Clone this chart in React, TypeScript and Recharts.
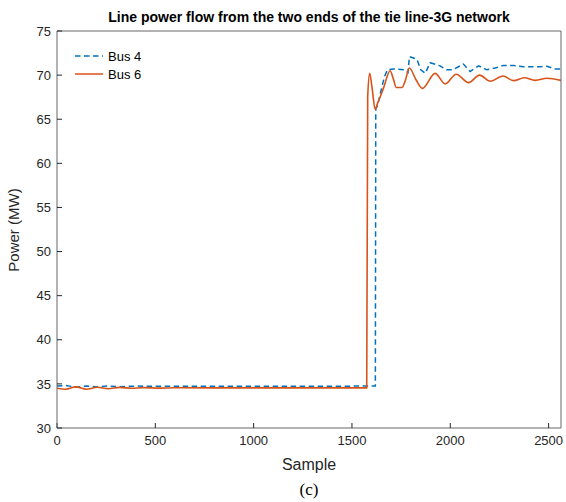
import React from 'react'
import { Legend, Line, LineChart, XAxis, YAxis } from 'recharts'

// samples and power (MW)
const bus4Samples = [0, 45, 100, 150, 205, 260, 320, 400, 500, 700, 1000, 1300, 1619, 1621, 1630, 1645, 1665, 1680, 1711, 1770, 1785, 1792, 1830, 1850, 1873, 1897, 1948, 1980, 2012, 2067, 2101, 2144, 2186, 2229, 2269, 2320, 2373, 2458, 2492, 2530, 2563]
const bus4Power = [34.75, 34.82, 34.62, 34.76, 34.66, 34.76, 34.68, 34.75, 34.72, 34.74, 34.74, 34.74, 34.75, 66.2, 66.5, 68.0, 69.8, 70.6, 70.7, 70.6, 70.3, 72.1, 71.8, 70.6, 70.2, 71.4, 71.05, 70.6, 70.6, 71.25, 70.4, 71.05, 70.6, 70.8, 71.1, 71.1, 70.95, 70.95, 71.0, 70.7, 70.7]

const bus6Samples = [0, 45, 95, 150, 205, 260, 320, 380, 440, 520, 600, 800, 1100, 1400, 1575, 1580, 1590, 1602, 1618, 1630, 1643, 1660, 1694, 1710, 1725, 1755, 1770, 1792, 1825, 1858, 1923, 1974, 2030, 2093, 2149, 2203, 2268, 2322, 2376, 2432, 2492, 2563]
const bus6Power = [34.5, 34.4, 34.66, 34.4, 34.62, 34.45, 34.6, 34.5, 34.58, 34.52, 34.56, 34.55, 34.55, 34.55, 34.55, 67.5, 70.2, 68.6, 66.1, 66.8, 67.5, 68.5, 70.5, 69.6, 68.6, 68.6, 69.3, 70.8, 69.5, 68.5, 70.2, 69.0, 70.1, 69.15, 70.0, 69.3, 69.9, 69.37, 69.7, 69.4, 69.65, 69.4]

const xTicks = [0, 500, 1000, 1500, 2000, 2500]
const yTicks = [30, 35, 40, 45, 50, 55, 60, 65, 70, 75]

const bus4Data = bus4Samples.map((x, i) => ({ x, p: bus4Power[i] }))
const bus6Data = bus6Samples.map((x, i) => ({ x, p: bus6Power[i] }))

const AXIS = '#666666'
const TXT = '#262626'
const FONT = 'Arial, "Liberation Sans", sans-serif'

const LegendBox = () => (
  <div style={{ fontFamily: FONT, fontSize: 13, color: '#000' }}>
    <div style={{ display: 'flex', alignItems: 'center', height: 18 }}>
      <svg width={33} height={10}>
        <line x1={0} y1={5} x2={28} y2={5} stroke='#0072BD' strokeWidth={1.5} strokeDasharray='5.5 3.5' />
      </svg>
      <span>Bus 4</span>
    </div>
    <div style={{ display: 'flex', alignItems: 'center', height: 18 }}>
      <svg width={33} height={10}>
        <line x1={0} y1={5} x2={28} y2={5} stroke='#D95319' strokeWidth={1.5} />
      </svg>
      <span>Bus 6</span>
    </div>
  </div>
)

export default function App() {
  return (
    <div style={{ position: 'absolute', left: 0, top: 0, width: 566, height: 502, background: '#fff' }}>
      <div style={{ position: 'absolute', left: 57, width: 504, top: 9, lineHeight: '16px', textAlign: 'center', fontFamily: FONT, fontWeight: 'bold', fontSize: 14, color: '#000' }}>
        Line power flow from the two ends of the tie line-3G network
      </div>
      <div style={{ position: 'absolute', left: -86, top: 221, width: 200, height: 18, lineHeight: '18px', textAlign: 'center', transform: 'rotate(-90deg)', fontFamily: FONT, fontSize: 15, color: TXT }}>
        Power (MW)
      </div>
      <div style={{ position: 'absolute', left: 259, width: 100, top: 480, lineHeight: '20px', textAlign: 'center', fontFamily: '"Times New Roman", "Liberation Serif", serif', fontSize: 17, color: '#000' }}>
        (c)
      </div>
      <LineChart width={566} height={502} margin={{ top: 30, right: 4, bottom: 44, left: 0 }} style={{ position: 'absolute', left: 0, top: 0 }}>
        <XAxis xAxisId='b' dataKey='x' type='number' domain={[0, 2563]} ticks={xTicks} allowDataOverflow height={30}
          stroke={AXIS} tickSize={-5} tickMargin={13} tickLine={{ stroke: TXT }}
          tick={{ fill: TXT, fontSize: 13, fontFamily: FONT }}
          label={{ value: 'Sample', position: 'bottom', offset: 1, fill: TXT, fontSize: 16, fontFamily: FONT }} />
        <XAxis xAxisId='t' orientation='top' dataKey='x' type='number' domain={[0, 2563]} ticks={xTicks} allowDataOverflow height={1}
          stroke={AXIS} tickSize={-5} tick={false} tickLine={{ stroke: TXT }} />
        <YAxis yAxisId='l' type='number' domain={[30, 75]} ticks={yTicks} width={57}
          stroke={AXIS} tickSize={-5} tickMargin={11} tickLine={{ stroke: TXT }}
          tick={{ fill: TXT, fontSize: 13, fontFamily: FONT }} />
        <YAxis yAxisId='r' orientation='right' type='number' domain={[30, 75]} ticks={yTicks} width={1}
          stroke={AXIS} tickSize={-5} tick={false} tickLine={{ stroke: TXT }} />
        <Legend layout='horizontal' verticalAlign='middle' align='center' wrapperStyle={{ left: 75, top: 47, width: 'auto' }} content={() => <LegendBox />} />
        <Line xAxisId='b' yAxisId='l' name='Bus 4' data={bus4Data} dataKey='p' type='linear' stroke='#0072BD' strokeWidth={1.5}
          strokeDasharray='5.5 3.5' dot={false} isAnimationActive={false} />
        <Line xAxisId='b' yAxisId='l' name='Bus 6' data={bus6Data} dataKey='p' type='monotone' stroke='#D95319' strokeWidth={1.6}
          dot={false} isAnimationActive={false} />
      </LineChart>
    </div>
  )
}
